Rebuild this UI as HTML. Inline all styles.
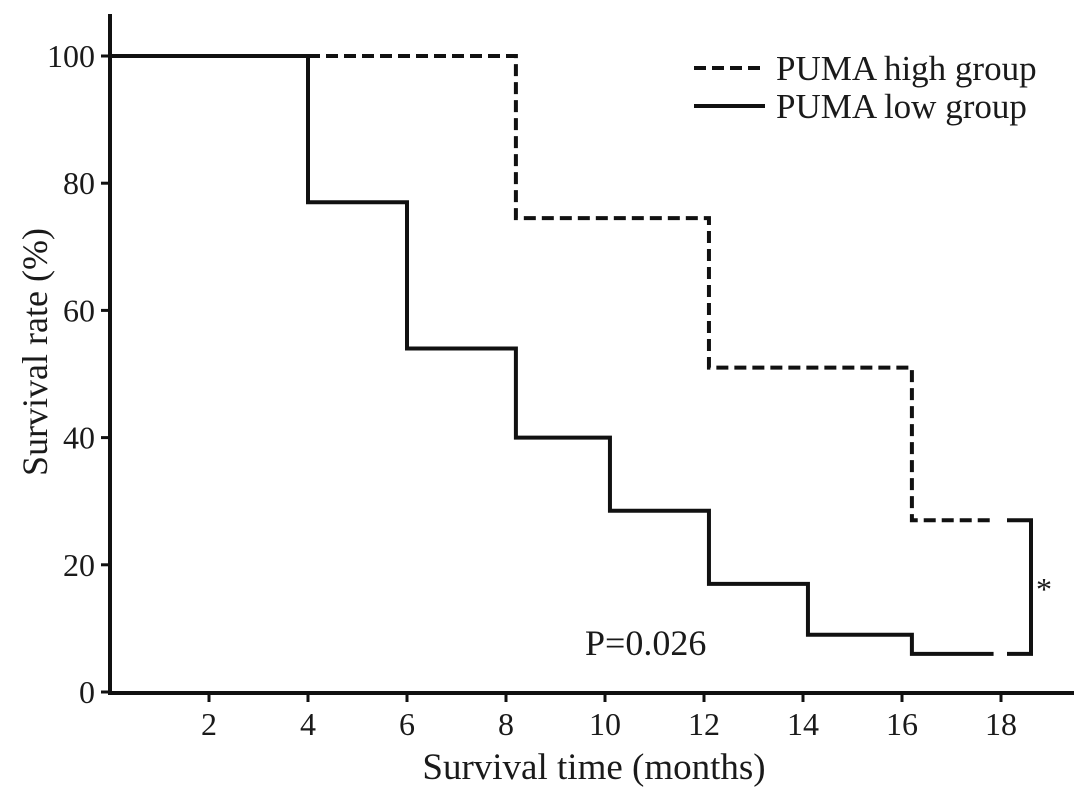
<!DOCTYPE html>
<html><head><meta charset="utf-8"><style>
body{margin:0;background:#fff}
svg text{font-family:"Liberation Serif",serif;fill:#1a1a1a}
</style></head><body>
<svg id="chart" width="1087" height="794" viewBox="0 0 1087 794" xmlns="http://www.w3.org/2000/svg">
<g id="axes"></g><g id="series"></g>
<text x="594" y="779" font-size="37" text-anchor="middle">Survival time (months)</text>
<text transform="translate(47,352) rotate(-90)" font-size="36" text-anchor="middle">Survival rate (%)</text>
<text x="585" y="655" font-size="36">P=0.026</text>
<text x="1036" y="600" font-size="32">*</text>
<g>
<line x1="694" y1="68" x2="765" y2="68" stroke="#111" stroke-width="4" stroke-dasharray="12,6"/>
<text x="776" y="80" font-size="35">PUMA high group</text>
<line x1="694" y1="106" x2="765" y2="106" stroke="#111" stroke-width="4"/>
<text x="776" y="118" font-size="35">PUMA low group</text>
</g>
</svg>
<script>
const xTicks=[2,4,6,8,10,12,14,16,18];
const yTicks=[0,20,40,60,80,100];
const highTimes=[0,8.2,12.1,16.2,17.85];
const highSurv=[100,74.5,51,27,27];
const lowTimes=[0,4.0,6,8.2,10.1,12.1,14.1,16.2,17.85];
const lowSurv=[100,77,54,40,28.5,17,9,6,6];
const NS="http://www.w3.org/2000/svg";
const X=v=>110+v*49.5, Y=v=>692-v*6.36;
function mk(tag,attrs,parent){const e=document.createElementNS(NS,tag);for(const k in attrs)e.setAttribute(k,attrs[k]);parent.appendChild(e);return e;}
const ax=document.getElementById('axes'), se=document.getElementById('series');
let a=mk('path',{d:`M110,14 V693 H1074`,fill:'none',stroke:'#111','stroke-width':4},ax);


xTicks.forEach(t=>{
 let l=mk('line',{x1:X(t),x2:X(t),y1:693,y2:702,stroke:'#111','stroke-width':3},ax);
 
 
 let tx=mk('text',{x:X(t),y:735,'font-size':32,'text-anchor':'middle'},ax);tx.textContent=t;
 
 
});
yTicks.forEach(t=>{
 let l=mk('line',{x1:101,x2:110,y1:Y(t),y2:Y(t),stroke:'#111','stroke-width':3},ax);
 
 
 let tx=mk('text',{x:95,y:Y(t)+11,'font-size':32,'text-anchor':'end'},ax);tx.textContent=t;
 
 
});
function step(ts,ss){let d=`M${X(ts[0])},${Y(ss[0])}`;for(let i=1;i<ts.length;i++){d+=` H${X(ts[i])} V${Y(ss[i])}`;}return d;}
let h=mk('path',{d:step(highTimes,highSurv),fill:'none',stroke:'#111','stroke-width':4,'stroke-dasharray':'12,6'},se);


let lo=mk('path',{d:step(lowTimes,lowSurv),fill:'none',stroke:'#111','stroke-width':4},se);


const hEnd=highSurv[highSurv.length-1], lEnd=lowSurv[lowSurv.length-1];
let b=mk('path',{d:`M1007,${Y(hEnd)} H1031 V${Y(lEnd)} H1007`,fill:'none',stroke:'#111','stroke-width':4},se);


</script>
</body></html>
